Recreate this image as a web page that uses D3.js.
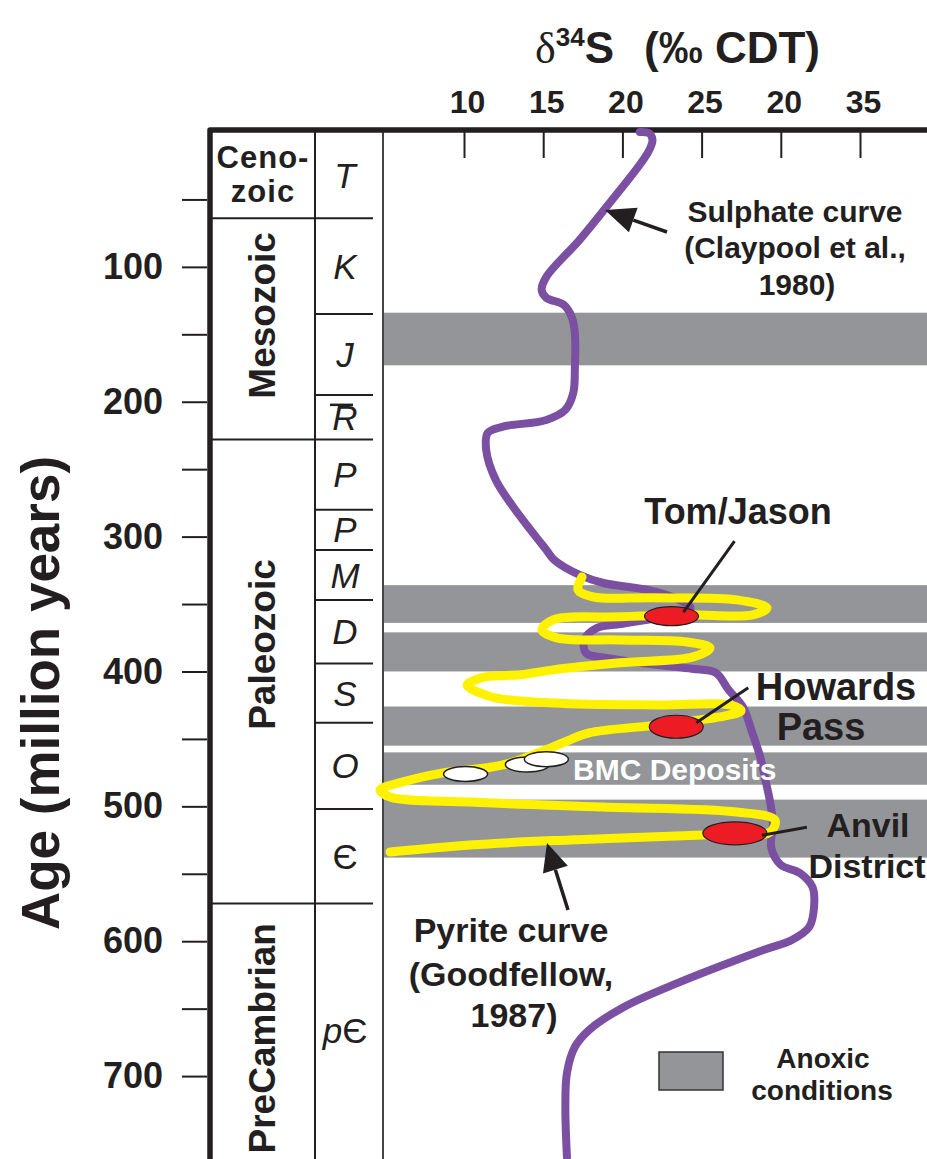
<!DOCTYPE html>
<html>
<head>
<meta charset="utf-8">
<script src="https://cdn.jsdelivr.net/npm/d3@7"></script>
<style>
body { margin: 0; background: #fff; }
svg { display: block; font-family: 'Liberation Sans', Arial, sans-serif; }
</style>
</head>
<body>
<script>
// ---- data ----
let xTicks = [10, 15, 20, 25, 30, 35]
let xTickLabels = ['10', '15', '20', '25', '20', '35']
let ageTicks = d3.range(50, 701, 50)

let eraNames = [['Ceno-', 'zoic'], ['Mesozoic'], ['Paleozoic'], ['PreCambrian']]
let eraBounds = [0, 64, 228, 572, 760]
let periodNames = ['T', 'K', 'J', 'TR', 'P', 'P', 'M', 'D', 'S', 'O', 'Є', 'pЄ']
let periodBounds = [0, 64, 135, 195, 228, 280, 310, 347, 394, 438, 502, 572, 760]

let anoxicTop = [134, 336, 371, 426, 460, 495]
let anoxicBottom = [173, 364, 400, 455, 484, 538]

let sulphateAge = [0, 1, 6, 15.5, 55.5, 80, 107.4, 117.1, 123, 128.2, 137.1, 149, 174.2, 193.4, 206,
  213.5, 218.6, 223.1, 235.7, 257.9, 277.9, 295, 309.9, 317.3, 328.4, 334.4, 339.6, 347, 352.9,
  359.6, 364.8, 367.7, 376.6, 386.3, 390, 395.2, 398, 401, 413.6, 426.2, 445.5, 463.3, 484.1, 495.2,
  512.3, 530.8, 543.4, 549.4, 559.8, 574.6, 589.4, 599.1, 606.5, 630.9, 648.7, 665.8, 678.4, 697.7,
  722.9, 760]
let sulphateD34S = [21.1, 21.7, 21.9, 21.6, 19.0, 17.3, 15.2, 14.9, 15.2, 16.3, 16.8, 17.0, 17.0, 16.9,
  16.4, 15.2, 12.4, 11.5, 11.4, 12.0, 13.1, 14.2, 15.2, 15.7, 17.3, 18.8, 21.6, 23.6, 24.3, 22.4,
  19.9, 18.4, 17.6, 17.7, 19.0, 22.3, 24.4, 25.9, 26.7, 27.6, 28.2, 28.7, 29.1, 29.3, 29.5, 29.4,
  30.0, 31.2, 32.0, 32.1, 31.8, 30.7, 28.9, 23.5, 20.1, 17.9, 17.0, 16.5, 16.4, 16.5]

let pyriteAge = [329.9, 339.5, 344.7, 345.4, 346.9, 352.9, 358.0, 358.0, 359.5, 361.8, 369.2, 375.1,
  376.6, 378.1, 382.5, 389.2, 393.6, 398.8, 402.5, 404.0, 410.0, 418.9, 423.3, 424.8, 424.8, 429.2,
  433.0, 439.6, 445.5, 450.7, 455.9, 469.3, 475.2, 481.9, 487.8, 493.1, 496.8, 500.5, 504.2, 510.2,
  519.0, 521.2, 524.9, 528.6, 533.8]
let pyriteD34S = [17.45, 17.2, 18.14, 21.93, 27.23, 29.13, 28.24, 24.08, 19.85, 15.62, 14.92, 15.87,
  19.85, 24.08, 25.53, 24.46, 19.85, 15.62, 13.54, 11.33, 10.19, 11.77, 15.68, 22.31, 26.79, 27.49,
  26.48, 22.31, 17.89, 16.69, 15.62, 12.46, 8.67, 6.15, 4.70, 5.33, 10.38, 18.78, 27.23, 29.63,
  29.32, 25.09, 16.69, 10.38, 5.33]

let depositNames = ['Tom/Jason', 'Howards Pass', 'Anvil District']
let depositAge = [359, 441, 520]
let depositD34S = [23.1, 23.4, 27.1]
let bmcAge = [476, 469, 465]
let bmcD34S = [10.1, 14.0, 15.2]

// ---- layout ----
let width = 927
let height = 1159
let ink = '#231f20'
let bandGrey = '#939598'

let x = d3.scaleLinear().domain([10, 35]).range([464, 860])
let y = d3.scaleLinear().domain([0, 760]).range([132, 1157])
let plotLeft = 383

let svg = d3.select('body')
  .append('svg')
  .attr('width', width)
  .attr('height', height)

// anoxic bands
svg.selectAll('rect.band')
  .data(anoxicTop)
  .enter()
  .append('rect')
  .attr('class', 'band')
  .attr('x', plotLeft)
  .attr('y', d => y(d))
  .attr('width', width - plotLeft)
  .attr('height', (d, i) => y(anoxicBottom[i]) - y(d))
  .attr('fill', bandGrey)

// frame lines
svg.append('line')
  .attr('x1', plotLeft).attr('x2', plotLeft)
  .attr('y1', 130).attr('y2', height)
  .attr('stroke', '#444').attr('stroke-width', 2)
svg.append('line')
  .attr('x1', 315).attr('x2', 315)
  .attr('y1', 130).attr('y2', height)
  .attr('stroke', ink).attr('stroke-width', 2)

// era + period boundaries
svg.selectAll('line.period')
  .data(periodBounds.slice(1, -1))
  .enter()
  .append('line')
  .attr('class', 'period')
  .attr('x1', d => eraBounds.includes(d) ? 210 : 315)
  .attr('x2', 373)
  .attr('y1', d => y(d))
  .attr('y2', d => y(d))
  .attr('stroke', ink)
  .attr('stroke-width', 2)

svg.append('path')
  .attr('d', 'M210,' + height + ' L210,130 L' + width + ',130')
  .attr('fill', 'none')
  .attr('stroke', ink)
  .attr('stroke-width', 5.5)
  .attr('stroke-linejoin', 'round')

// axes
let xAxis = d3.axisTop(x)
  .tickValues(xTicks)
  .tickSizeInner(-27)
  .tickSizeOuter(0)
  .tickPadding(18)
  .tickFormat((d, i) => xTickLabels[i])
let gx = svg.append('g')
  .attr('transform', 'translate(0,131)')
  .call(xAxis)
gx.select('.domain').remove()
gx.selectAll('line').attr('stroke', ink).attr('stroke-width', 2)
gx.selectAll('text')
  .attr('font-size', 32)
  .attr('font-weight', 'bold')
  .attr('fill', ink)
  .attr('font-family', 'Liberation Sans, Arial, sans-serif')
  .attr('dx', 3)

let yAxis = d3.axisLeft(y)
  .tickValues(ageTicks)
  .tickSizeInner(25)
  .tickSizeOuter(0)
  .tickPadding(19)
  .tickFormat(d => d % 100 === 0 ? d : '')
let gy = svg.append('g')
  .attr('transform', 'translate(207,0)')
  .call(yAxis)
gy.select('.domain').remove()
gy.selectAll('line').attr('stroke', ink).attr('stroke-width', 2)
gy.selectAll('text')
  .attr('font-size', 36)
  .attr('font-weight', 'bold')
  .attr('fill', ink)
  .attr('font-family', 'Liberation Sans, Arial, sans-serif')

// axis titles
let title = svg.append('text')
  .attr('x', 535)
  .attr('y', 63)
  .attr('fill', ink)
  .attr('font-size', 44)
  .attr('font-weight', 'bold')
title.append('tspan').text('δ').attr('font-weight', 'normal').attr('font-family', 'Liberation Serif, serif')
title.append('tspan').text('34').attr('font-size', 26).attr('dy', -17)
title.append('tspan').text('S').attr('dy', 17)
title.append('tspan').text('(‰ CDT)').attr('dx', 30)

svg.append('text')
  .attr('transform', 'translate(59,693) rotate(-90)')
  .attr('text-anchor', 'middle')
  .attr('fill', ink)
  .attr('font-size', 53)
  .attr('font-weight', 'bold')
  .text('Age (million years)')

// era labels
svg.append('text')
  .attr('x', 263).attr('y', 168)
  .attr('text-anchor', 'middle').attr('font-size', 31).attr('font-weight', 'bold').attr('fill', ink)
  .attr('letter-spacing', 1)
  .text(eraNames[0][0])
svg.append('text')
  .attr('x', 263).attr('y', 202)
  .attr('text-anchor', 'middle').attr('font-size', 31).attr('font-weight', 'bold').attr('fill', ink)
  .attr('letter-spacing', 1)
  .text(eraNames[0][1])
let eraLabelMid = [null, 136, 380, 672]
eraNames.slice(1).forEach((n, i) => {
  svg.append('text')
    .attr('transform', 'translate(275,' + y(eraLabelMid[i + 1]) + ') rotate(-90)')
    .attr('text-anchor', 'middle')
    .attr('font-size', 37)
    .attr('font-weight', 'bold')
    .attr('fill', ink)
    .text(n[0])
})

// period labels
periodNames.forEach((p, i) => {
  let cy = y((periodBounds[i] + periodBounds[i + 1]) / 2)
  if (i === periodNames.length - 1) cy = y(666)
  let t = svg.append('text')
    .attr('x', 345)
    .attr('y', cy)
    .attr('dy', '0.36em')
    .attr('text-anchor', 'middle')
    .attr('font-size', 35)
    .attr('font-style', 'italic')
    .attr('fill', ink)
  if (p === 'TR') {
    // Triassic: R with a T-bar on top
    t.text('R')
    let base = cy + 0.36 * 35
    svg.append('line')
      .attr('x1', 330).attr('x2', 353)
      .attr('y1', base - 25).attr('y2', base - 25)
      .attr('stroke', ink).attr('stroke-width', 2.5)
  } else if (p === 'Є') {
    t.attr('font-style', 'normal').text(p)
  } else if (p === 'pЄ') {
    t.append('tspan').text('p')
    t.append('tspan').attr('font-style', 'normal').text('Є')
  } else {
    t.text(p)
  }
})

// curves
let line = d3.line()
  .x(d => x(d[1]))
  .y(d => y(d[0]))
  .curve(d3.curveCatmullRom.alpha(0.5))

svg.append('path')
  .datum(sulphateAge.map((a, i) => [a, sulphateD34S[i]]))
  .attr('d', line)
  .attr('fill', 'none')
  .attr('stroke', '#7b4fa1')
  .attr('stroke-width', 8)
  .attr('stroke-linecap', 'round')

svg.append('path')
  .datum(pyriteAge.map((a, i) => [a, pyriteD34S[i]]))
  .attr('d', line)
  .attr('fill', 'none')
  .attr('stroke', '#fff200')
  .attr('stroke-width', 9)
  .attr('stroke-linecap', 'round')
  .attr('stroke-linejoin', 'round')

// deposits
let depRx = [27, 27, 32]
let depRy = [9.5, 11.5, 11.5]
svg.selectAll('ellipse.dep')
  .data(depositAge)
  .enter()
  .append('ellipse')
  .attr('class', 'dep')
  .attr('cx', (d, i) => x(depositD34S[i]))
  .attr('cy', d => y(d))
  .attr('rx', (d, i) => depRx[i])
  .attr('ry', (d, i) => depRy[i])
  .attr('fill', '#ed1c24')
  .attr('stroke', ink)
  .attr('stroke-width', 1.2)

// pointer lines: [end offset, start offset] from ellipse centre
let pointers = [[[12, -4], [63, -75]], [[20, -4], [72, -39]], [[27, 2], [72, -6]]]
pointers.forEach((p, i) => {
  let cx = x(depositD34S[i])
  let cy = y(depositAge[i])
  svg.append('line')
    .attr('x1', cx + p[1][0]).attr('y1', cy + p[1][1])
    .attr('x2', cx + p[0][0]).attr('y2', cy + p[0][1])
    .attr('stroke', ink)
    .attr('stroke-width', 3)
})

svg.selectAll('ellipse.bmc')
  .data(bmcAge)
  .enter()
  .append('ellipse')
  .attr('class', 'bmc')
  .attr('cx', (d, i) => x(bmcD34S[i]))
  .attr('cy', d => y(d))
  .attr('rx', 22)
  .attr('ry', 7.5)
  .attr('fill', '#fff')
  .attr('stroke', ink)
  .attr('stroke-width', 1.5)

// arrows
function arrow (x1, y1, x2, y2, len, half) {
  let a = Math.atan2(y2 - y1, x2 - x1)
  let bx = x2 - len * Math.cos(a)
  let by = y2 - len * Math.sin(a)
  svg.append('line')
    .attr('x1', x1).attr('y1', y1).attr('x2', bx).attr('y2', by)
    .attr('stroke', ink).attr('stroke-width', 3.5)
  svg.append('path')
    .attr('d', 'M' + x2 + ',' + y2 +
      'L' + (bx + half * Math.sin(a)) + ',' + (by - half * Math.cos(a)) +
      'L' + (bx - half * Math.sin(a)) + ',' + (by + half * Math.cos(a)) + 'Z')
    .attr('fill', ink)
}
arrow(667, 232, 605, 210, 30, 13)
arrow(568, 910, 547, 843, 28, 13)

// annotation text
function label (txt, tx, ty, size, opts) {
  opts = opts || {}
  return svg.append('text')
    .attr('x', tx)
    .attr('y', ty)
    .attr('text-anchor', opts.anchor || 'middle')
    .attr('font-size', size)
    .attr('font-weight', 'bold')
    .attr('fill', opts.fill || ink)
    .text(txt)
}
label('Sulphate curve', 795, 222, 30)
label('(Claypool et al.,', 795, 258, 30)
label('1980)', 797, 295, 30)
label(depositNames[0], 738, 524, 36)
label('Howards', 836, 700, 38)
label('Pass', 821, 740, 38)
label('Anvil', 868, 837, 34)
label('District', 867, 878, 34)
label('BMC Deposits', 573, 780, 30, { anchor: 'start', fill: '#fff' })
label('Pyrite curve', 511, 942, 34)
label('(Goodfellow,', 511, 986, 34)
label('1987)', 514, 1027, 34)

// legend
svg.append('rect')
  .attr('x', 659).attr('y', 1052)
  .attr('width', 64).attr('height', 38)
  .attr('fill', bandGrey)
  .attr('stroke', '#333')
  .attr('stroke-width', 1.5)
label('Anoxic', 823, 1068, 28)
label('conditions', 822, 1100, 28)
</script>
</body>
</html>
